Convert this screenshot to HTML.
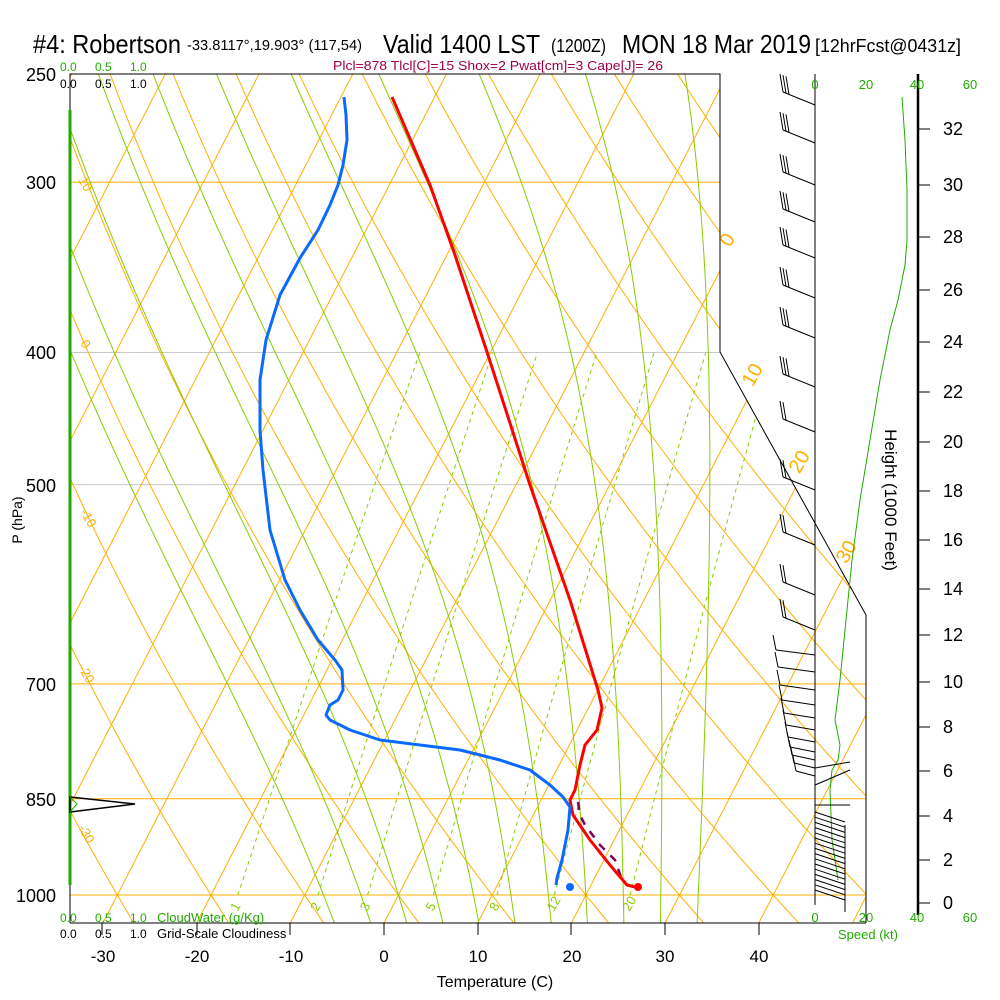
<!DOCTYPE html>
<html><head><meta charset="utf-8"><style>
body{margin:0;background:#fff;}
svg{display:block;font-family:"Liberation Sans",sans-serif;}
</style></head><body>
<svg id="s" width="1000" height="1000" xmlns="http://www.w3.org/2000/svg">
<defs><clipPath id="c"><polygon points="70,74 720,74 720,352 866,615 866,923 70,923"/></clipPath></defs>
<rect width="1000" height="1000" fill="#fff"/>
<g id="grid" clip-path="url(#c)"></g>
<g id="fg"></g>
<text x="33" y="53" font-size="26" textLength="148" lengthAdjust="spacingAndGlyphs">#4: Robertson</text>
<text x="187" y="50" font-size="15" textLength="175" lengthAdjust="spacingAndGlyphs">-33.8117°,19.903° (117,54)</text>
<text x="383" y="53" font-size="26" textLength="157" lengthAdjust="spacingAndGlyphs">Valid 1400 LST</text>
<text x="551" y="52" font-size="18" textLength="55" lengthAdjust="spacingAndGlyphs">(1200Z)</text>
<text x="622" y="53" font-size="26" textLength="189" lengthAdjust="spacingAndGlyphs">MON 18 Mar 2019</text>
<text x="815" y="52" font-size="18" textLength="146" lengthAdjust="spacingAndGlyphs">[12hrFcst@0431z]</text>
<text x="333" y="70" font-size="13" fill="#a0004a" textLength="330" lengthAdjust="spacingAndGlyphs">Plcl=878 Tlcl[C]=15 Shox=2 Pwat[cm]=3 Cape[J]= 26</text>
<g font-size="12" fill="#22aa00"><text x="60" y="71">0.0</text><text x="95" y="71">0.5</text><text x="130" y="71">1.0</text>
<text x="60" y="922">0.0</text><text x="95" y="922">0.5</text><text x="130" y="922">1.0</text><text x="157" y="922" font-size="13">CloudWater (g/Kg)</text></g>
<g font-size="12" fill="#000"><text x="60" y="88">0.0</text><text x="95" y="88">0.5</text><text x="130" y="88">1.0</text>
<text x="60" y="938">0.0</text><text x="95" y="938">0.5</text><text x="130" y="938">1.0</text><text x="157" y="938" font-size="13">Grid-Scale Cloudiness</text></g>
<g font-size="18" text-anchor="end"><text x="56" y="81">250</text><text x="56" y="189">300</text><text x="56" y="359">400</text><text x="56" y="492">500</text><text x="56" y="691">700</text><text x="56" y="806">850</text><text x="56" y="902">1000</text></g>
<text transform="translate(22,520) rotate(-90)" font-size="14" text-anchor="middle">P (hPa)</text>
<g font-size="17" text-anchor="middle"><text x="103" y="962">-30</text><text x="197" y="962">-20</text><text x="291" y="962">-10</text><text x="384" y="962">0</text><text x="478" y="962">10</text><text x="572" y="962">20</text><text x="665" y="962">30</text><text x="759" y="962">40</text></g>
<text x="495" y="987" font-size="16" text-anchor="middle">Temperature (C)</text>
<g font-size="13" fill="#22aa00" text-anchor="middle"><text x="815" y="89">0</text><text x="866" y="89">20</text><text x="917" y="89">40</text><text x="970" y="89">60</text>
<text x="815" y="922">0</text><text x="866" y="922">20</text><text x="917" y="922">40</text><text x="970" y="922">60</text><text x="868" y="939">Speed (kt)</text></g>
<text transform="translate(885,500) rotate(90)" font-size="17" text-anchor="middle">Height (1000 Feet)</text>
<g id="hz" font-size="18"></g>
</svg>
<script>
var NS="http://www.w3.org/2000/svg";
function el(p,t,a){var e=document.createElementNS(NS,t);for(var k in a)e.setAttribute(k,a[k]);p.appendChild(e);return e;}
var G=document.getElementById('grid'),F=document.getElementById('fg');
function Y(p){return 895-592*Math.log(1000/p);}
function X(T,p){return 384+9.37*T+0.515*(923-Y(p));}
function line(pts,st){el(G,'polyline',Object.assign({points:pts.map(function(q){return q[0].toFixed(1)+','+q[1].toFixed(1)}).join(' '),fill:'none'},st));}
var OR='#ffb000',GR='#88cc00';
[[300,OR],[400,'#c8c8c8'],[500,'#c8c8c8'],[700,OR],[850,OR],[1000,OR]].forEach(function(h){el(G,'line',{x1:70,x2:866,y1:Y(h[0]),y2:Y(h[0]),stroke:h[1],'stroke-width':1});});
for(var T=-150;T<=60;T+=10){line([[X(T,1100),Y(1100)],[X(T,200),Y(200)]],{stroke:OR,'stroke-width':1});}
for(var th=-60;th<=200;th+=10){var pts=[];for(var p=1100;p>=200;p-=10){var t=(th+273.15)*Math.pow(p/1000,0.2857)-273.15;pts.push([X(t,p),Y(p)]);}line(pts,{stroke:OR,'stroke-width':1});}
function es(t){return 6.112*Math.exp(17.67*t/(t+243.5));}
for(var tw=-8;tw<=32;tw+=4){var t=tw+273.15,p=1000;var up=[];
 for(p=1000;p>=200;p-=5){var tc=t-273.15;var rs=0.622*es(tc)/(p-es(tc));up.push([X(tc,p),Y(p)]);
  var dTdp=(287*t+2.5e6*rs)/(p*(1004+2.5e6*2.5e6*rs*0.622/(287*t*t)));t-=dTdp*5;}
 t=tw+273.15;var dn=[];for(p=1000;p<=1100;p+=5){var tc=t-273.15;var rs=0.622*es(tc)/(p-es(tc));dn.push([X(tc,p),Y(p)]);var dTdp=(287*t+2.5e6*rs)/(p*(1004+2.5e6*2.5e6*rs*0.622/(287*t*t)));t+=dTdp*5;}
 line(dn.reverse().concat(up),{stroke:GR,'stroke-width':1});}
[1,2,3,5,8,12,20].forEach(function(w){var pts=[];for(var p=1000;p>=400;p-=10){var e=w*p/(622+w);var l=Math.log(e/6.112);var td=243.5*l/(17.67-l);pts.push([X(td,p),Y(p)]);}
 line(pts,{stroke:GR,'stroke-width':1,'stroke-dasharray':'4,4'});
 var e=w*1000/(622+w),l=Math.log(e/6.112),td=243.5*l/(17.67-l);el(F,'text',{x:X(td,1000)-4,y:914,'font-size':13,fill:GR,transform:'rotate(-60 '+(X(td,1000)-4)+' 910)'}).textContent=w;});
el(F,'polyline',{points:'70,923 70,74 720,74 720,352 866,615 866,923',fill:'none',stroke:'#000','stroke-width':1});
el(F,'line',{x1:70,y1:923,x2:866,y2:923,stroke:'#000'});
[102,197,290,384,478,571,665,759].forEach(function(x){el(F,'line',{x1:x,x2:x,y1:923,y2:935,stroke:'#000'});});
[["0",733,243,-60],["10",758,378,-60],["20",805,465,-60],["30",852,555,-60]].forEach(function(a){el(F,'text',{x:a[1],y:a[2],'font-size':20,fill:OR,transform:'rotate('+a[3]+' '+a[1]+' '+a[2]+')','text-anchor':'middle'}).textContent=a[0];});
[["10",78,180],["0",80,343],["-10",80,512],["-20",78,668],["-30",78,828]].forEach(function(a){el(F,'text',{x:a[1],y:a[2],'font-size':13,fill:OR,transform:'rotate(60 '+a[1]+' '+a[2]+')'}).textContent=a[0];});
el(F,'line',{x1:70,y1:110,x2:70,y2:885,stroke:'#22aa00','stroke-width':3});
el(F,'polygon',{points:'70,797 135,804 70,812',fill:'none',stroke:'#000','stroke-width':1.5});
el(F,'polyline',{points:'70,797 77,804 70,812',fill:'none',stroke:'#22aa00'});
function pl(s,st){el(F,'polyline',Object.assign({points:s,fill:'none','stroke-linejoin':'round'},st));}
pl('578,802 580,815 585,825 600,845 615,860 622,880',{stroke:'#800060','stroke-width':2.5,'stroke-dasharray':'8,8'});
pl('392,97 430,185 455,255 487,352 530,485 570,600 598,690 602,708 597,730 585,745 580,765 575,790 570,800 573,815 590,840 610,865 627,885 635,887',{stroke:'#ff0000','stroke-width':3});
pl('344,97 346,115 347,140 343,165 338,185 330,205 318,230 300,258 280,295 266,340 260,380 260,430 263,470 270,530 285,580 300,610 318,640 335,660 342,670 343,690 338,700 330,705 326,715 330,720 350,730 380,740 420,745 460,750 500,760 530,770 550,785 563,797 570,807 568,830 562,860 557,878 556,885',{stroke:'#0a6aff','stroke-width':3});
el(F,'circle',{cx:638,cy:887,r:4,fill:'#ff0000'});el(F,'circle',{cx:570,cy:887,r:4,fill:'#0a6aff'});
el(F,'line',{x1:815,y1:74,x2:815,y2:905,stroke:'#000'});
el(F,'line',{x1:918,y1:74,x2:918,y2:915,stroke:'#000','stroke-width':2.5});
var HZ=document.getElementById('hz');
[[32,129],[30,185],[28,237],[26,290],[24,342],[22,392],[20,442],[18,491],[16,540],[14,589],[12,635],[10,682],[8,727],[6,771],[4,816],[2,860],[0,903]].forEach(function(h){el(HZ,'line',{x1:918,x2:930,y1:h[1],y2:h[1],stroke:'#000'});el(HZ,'text',{x:943,y:h[1]+6}).textContent=h[0];});
el(F,'polyline',{points:'902,97 905,140 907,190 907,240 905,265 898,300 890,330 880,380 870,440 860,500 852,560 845,630 840,680 835,720 840,745 838,760 832,770 830,790 832,840 838,880',fill:'none',stroke:'#22aa00','stroke-width':1});
var up=[105,143,185,222,258,298,338,387,432,490,545,595,630];
up.forEach(function(y,i){var x2=783,y2=y-13;el(F,'line',{x1:815,y1:y,x2:x2,y2:y2,stroke:'#000'});var n=i<8?3:2;for(var k=0;k<n;k++){var bx=x2+k*3,by=y2+k*1.2;el(F,'line',{x1:bx,y1:by,x2:bx-3,y2:by-18,stroke:'#000'});}});
[655,672,690,705,718,730,742,752,760,768,776].forEach(function(y,i){el(F,'line',{x1:815,y1:y,x2:776+i*2,y2:y-5,stroke:'#000'});el(F,'line',{x1:776+i*2,y1:y-5,x2:773+i*2,y2:y-20,stroke:'#000'});});
[[815,768,850,762],[815,785,850,770],[815,805,850,805]].forEach(function(a){el(F,'line',{x1:a[0],y1:a[1],x2:a[2],y2:a[3],stroke:'#000'});});
for(var i=0;i<16;i++){var y=812+i*5.2;el(F,'line',{x1:815,y1:y,x2:845,y2:y+10,stroke:'#000'});}
el(F,'line',{x1:845,y1:825,x2:845,y2:912,stroke:'#000'});
</script>
</body></html>
